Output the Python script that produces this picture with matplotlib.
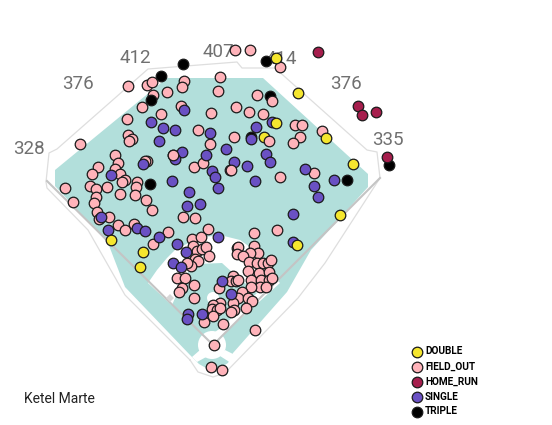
import matplotlib
matplotlib.use('Agg')
import matplotlib.pyplot as plt
from matplotlib.patches import Polygon, Circle

# all positions in pixels
FIELD_OUT_X = [128, 147, 152, 153, 184, 182, 167, 220, 218, 142, 181, 161, 211, 236, 257, 249, 263, 127, 128, 132, 129, 80, 198, 234, 210,
               115, 118, 98, 115, 92, 120, 173, 147, 145, 194, 203, 230, 125, 122, 137, 136, 90, 96, 107, 65, 120, 135, 96, 146, 73, 94, 97, 152,
               235, 250, 280, 295, 302, 322, 300, 293, 314, 280,
               99, 109, 118, 125, 134, 153, 168, 183, 195, 208, 192, 201, 193, 197, 202, 206, 209, 195, 198, 191, 187,
               177, 185, 194, 182, 179, 194, 204, 214, 211, 222, 254, 277, 237, 238, 237, 254, 258, 250, 243, 249, 257, 263, 268, 271,
               248, 259, 269, 233, 231, 236, 238, 251, 261, 269, 272, 260, 251, 266, 219, 242, 238, 248, 252, 233, 246, 234, 231,
               220, 213, 212, 217, 220, 213, 223, 255]
FIELD_OUT_Y = [86, 85, 82, 95, 81, 87, 92, 77, 91, 107, 106, 114, 113, 107, 95, 112, 114, 119, 135, 139, 141, 144, 130, 137, 144,
               155, 163, 167, 169, 174, 174, 155, 161, 161, 167, 163, 170, 180, 182, 182, 187, 186, 189, 187, 188, 194, 195, 197, 200, 202, 203, 212, 210,
               50, 50, 67, 125, 125, 131, 137, 143, 173, 177,
               219, 217, 225, 230, 224, 244, 232, 217, 218, 229, 239, 237, 246, 251, 249, 247, 256, 259, 261, 266, 263,
               278, 278, 285, 288, 292, 298, 322, 345, 367, 370, 233, 230, 248, 247, 254, 246, 253, 253, 256, 262, 263, 263, 263, 260,
               271, 273, 272, 276, 281, 281, 280, 280, 280, 280, 278, 287, 287, 287, 288, 292, 298, 298, 301, 303, 308, 310, 312,
               303, 305, 309, 310, 308, 316, 324, 330]
# the few outs that sit on top of other hits
FIELD_OUT_TOP_X = [272, 269, 173, 231]
FIELD_OUT_TOP_Y = [101, 141, 155, 170]
SINGLE_X = [151, 163, 175, 159, 184, 210, 226, 256, 251, 272, 182, 175, 206, 143, 234, 247, 212, 215, 266, 270, 172, 255, 218, 189, 111, 200, 187,
            305, 314, 318, 334, 108, 137, 145, 159, 177, 186, 173, 181, 188, 187, 202, 101, 218, 222, 231, 293, 293]
SINGLE_Y = [122, 128, 130, 141, 110, 133, 149, 127, 139, 122, 152, 159, 155, 164, 162, 166, 171, 177, 154, 162, 181, 181, 188, 192, 175, 204, 206,
            169, 186, 197, 180, 230, 228, 231, 237, 244, 252, 263, 267, 314, 319, 314, 217, 237, 281, 294, 214, 242]
DOUBLE_X = [276, 298, 276, 264, 326, 353, 340, 111, 143, 140, 297]
DOUBLE_Y = [58, 93, 123, 137, 138, 164, 215, 240, 252, 267, 245]
HOME_RUN_X = [318, 358, 362, 376, 387]
HOME_RUN_Y = [52, 106, 115, 112, 157]
TRIPLE_X = [266, 270, 347, 389, 183, 161, 151, 150, 251]
TRIPLE_Y = [61, 96, 180, 165, 64, 76, 100, 184, 137]

DIST_LABELS = ['328', '376', '412', '407', '414', '376', '335']
DIST_X = [29, 78, 135, 218, 281, 346, 388]
DIST_Y = [149, 84, 58, 52, 59, 84, 140]
LEGEND_LABELS = ['DOUBLE', 'FIELD_OUT', 'HOME_RUN', 'SINGLE', 'TRIPLE']
LEGEND_COLORS = ['#f5e62e', '#ffb3ba', '#a61e4d', '#6a51c4', '#000000']

TEAL = '#b2dfdb'
WALL = '#dedede'
FOUL = '#c4c4c4'

# field shapes
outfield = [(55, 170), (167, 78), (263, 78), (368, 174), (368, 187), (322, 238), (311, 250), (287, 292), (233, 353),
            (228, 363), (213, 372), (199, 364), (190, 355), (125, 287), (108, 243), (55, 186)]
dirt = [(148, 283), (157, 270), (167, 258), (175, 250), (198, 238), (220, 235), (240, 240), (257, 252), (270, 273), (280, 283),
        (217, 340), (209, 340)]
infield = [(172, 305), (176, 296), (188, 272), (197, 264), (222, 263), (233, 273), (257, 293), (237, 313), (222, 327),
           (215, 332), (207, 338)]
wall = [(190, 360), (125, 295), (88, 230), (47, 188), (46, 182), (49, 153), (57, 149), (148, 69), (237, 62), (242, 68),
        (275, 68), (367, 150), (377, 152), (380, 178), (325, 263), (298, 298), (225, 373), (213, 377), (198, 372), (190, 360)]
wedge_left = [(200, 350), (192, 357), (197, 362), (208, 356)]
wedge_right = [(225, 350), (237, 356), (231, 363), (220, 356)]
base_third = [(170, 294), (174, 298), (170, 302), (166, 298)]

fig = plt.figure(figsize=(5.52, 4.25), dpi=100)
ax = fig.add_axes([0, 0, 1, 1])
ax.set_xlim(0, 552)
ax.set_ylim(425, 0)
ax.axis('off')

ax.add_patch(Polygon(outfield, closed=True, fc=TEAL, ec='none', zorder=1))
ax.add_patch(Polygon(dirt, closed=True, fc='white', ec='none', zorder=2))
ax.add_patch(Polygon(infield, closed=True, fc=TEAL, ec='none', zorder=3))
ax.add_patch(Circle((213, 298), 6, fc='white', ec='none', zorder=4))
ax.add_patch(Circle((212, 345), 14, fc='white', ec='none', zorder=4))
ax.add_patch(Polygon(wedge_left, closed=True, fc='white', ec='none', zorder=4))
ax.add_patch(Polygon(wedge_right, closed=True, fc='white', ec='none', zorder=4))
ax.plot([x for x, y in wall], [y for x, y in wall], color=WALL, lw=0.9, zorder=5)
ax.plot([47, 209], [181, 341], color=FOUL, lw=1.5, zorder=5)
ax.plot([380, 217], [178, 341], color=FOUL, lw=1.5, zorder=5)
ax.add_patch(Polygon(base_third, closed=True, fc='#d8d8d8', ec='none', zorder=5))

for lab, x, y in zip(DIST_LABELS, DIST_X, DIST_Y):
    ax.text(x, y, lab, ha='center', va='center', fontsize=13.5, color='#707070',
            family='Roboto', zorder=6)

kw = dict(s=58, edgecolors='#1a1a1a', linewidths=0.9)
ax.scatter(FIELD_OUT_X, FIELD_OUT_Y, c=LEGEND_COLORS[1], zorder=7, **kw)
ax.scatter(TRIPLE_X, TRIPLE_Y, c=LEGEND_COLORS[4], zorder=8, **kw)
ax.scatter(SINGLE_X, SINGLE_Y, c=LEGEND_COLORS[3], zorder=9, **kw)
ax.scatter(DOUBLE_X, DOUBLE_Y, c=LEGEND_COLORS[0], zorder=10, **kw)
ax.scatter(HOME_RUN_X, HOME_RUN_Y, c=LEGEND_COLORS[2], zorder=10, **kw)
ax.scatter(FIELD_OUT_TOP_X, FIELD_OUT_TOP_Y, c=LEGEND_COLORS[1], zorder=11, **kw)

ax.text(24, 399, 'Ketel Marte', ha='left', va='center', fontsize=10, color='#222222', family='Roboto')

# legend is placed by hand to sit where the original does
for i, (lab, col) in enumerate(zip(LEGEND_LABELS, LEGEND_COLORS)):
    y = 351.5 + i * 15
    ax.scatter([417], [y], c=col, s=58, edgecolors='#1a1a1a', linewidths=0.9, zorder=7)
    ax.text(425, y, lab, ha='left', va='center', fontsize=7.2, fontweight='bold', color='black', family='Roboto')

plt.savefig('out.png', dpi=100)
